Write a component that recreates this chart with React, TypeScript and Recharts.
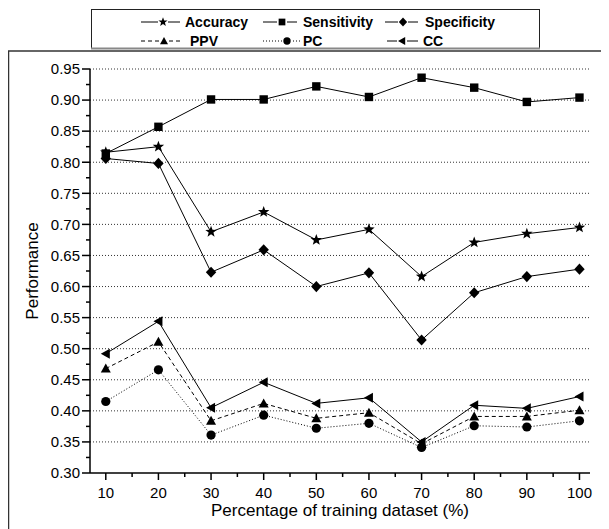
import React from 'react';
import { LineChart, Line, XAxis, YAxis, CartesianGrid } from 'recharts';

const trainingPct = [10, 20, 30, 40, 50, 60, 70, 80, 90, 100];
const accuracy = [0.816, 0.825, 0.688, 0.720, 0.675, 0.692, 0.616, 0.671, 0.685, 0.695];
const sensitivity = [0.814, 0.857, 0.901, 0.901, 0.922, 0.905, 0.936, 0.920, 0.897, 0.904];
const specificity = [0.806, 0.798, 0.623, 0.659, 0.600, 0.622, 0.514, 0.590, 0.616, 0.628];
const ppv = [0.468, 0.511, 0.384, 0.412, 0.388, 0.397, 0.347, 0.391, 0.391, 0.401];
const pc = [0.415, 0.466, 0.361, 0.393, 0.372, 0.380, 0.341, 0.376, 0.374, 0.384];
const cc = [0.492, 0.544, 0.405, 0.446, 0.412, 0.421, 0.350, 0.409, 0.404, 0.423];

const yMajorTicks = [0.30, 0.35, 0.40, 0.45, 0.50, 0.55, 0.60, 0.65, 0.70, 0.75, 0.80, 0.85, 0.90, 0.95];
const yMinorTicks = [0.325, 0.375, 0.425, 0.475, 0.525, 0.575, 0.625, 0.675, 0.725, 0.775, 0.825, 0.875, 0.925];
const xMajorTicks = [10, 20, 30, 40, 50, 60, 70, 80, 90, 100];
const xMinorTicks = [15, 25, 35, 45, 55, 65, 75, 85, 95];
const gridValues = [0.35, 0.40, 0.45, 0.50, 0.55, 0.60, 0.65, 0.70, 0.75, 0.80, 0.85, 0.90, 0.95];

const data = trainingPct.map((x, i) => ({
  x,
  accuracy: accuracy[i],
  sensitivity: sensitivity[i],
  specificity: specificity[i],
  ppv: ppv[i],
  pc: pc[i],
  cc: cc[i],
}));

const FONT = 'Arial, "Liberation Sans", sans-serif';

type Shape = 'star' | 'square' | 'diamond' | 'triangle' | 'circle' | 'leftTriangle';

const series: { key: string; name: string; shape: Shape; dash?: string }[] = [
  { key: 'accuracy', name: 'Accuracy', shape: 'star' },
  { key: 'sensitivity', name: 'Sensitivity', shape: 'square' },
  { key: 'specificity', name: 'Specificity', shape: 'diamond' },
  { key: 'ppv', name: 'PPV', shape: 'triangle', dash: '4 3' },
  { key: 'pc', name: 'PC', shape: 'circle', dash: '1 2' },
  { key: 'cc', name: 'CC', shape: 'leftTriangle' },
];

function starPoints(cx: number, cy: number, R: number, r: number) {
  const pts: string[] = [];
  for (let k = 0; k < 10; k++) {
    const ang = -Math.PI / 2 + (k * Math.PI) / 5;
    const rad = k % 2 === 0 ? R : r;
    pts.push(`${cx + rad * Math.cos(ang)},${cy + rad * Math.sin(ang)}`);
  }
  return pts.join(' ');
}

function Marker({ shape, cx, cy, s = 1 }: { shape: Shape; cx: number; cy: number; s?: number }) {
  if (cx == null || cy == null || isNaN(cx) || isNaN(cy)) return null;
  switch (shape) {
    case 'star':
      return <polygon points={starPoints(cx, cy, 6 * s, 2.5 * s)} fill="#000" />;
    case 'square':
      return <rect x={cx - 4.2 * s} y={cy - 4.2 * s} width={8.4 * s} height={8.4 * s} fill="#000" />;
    case 'diamond':
      return (
        <polygon
          points={`${cx},${cy - 5.6 * s} ${cx + 5.2 * s},${cy} ${cx},${cy + 5.6 * s} ${cx - 5.2 * s},${cy}`}
          fill="#000"
        />
      );
    case 'triangle':
      return (
        <polygon
          points={`${cx},${cy - 5 * s} ${cx + 5 * s},${cy + 4 * s} ${cx - 5 * s},${cy + 4 * s}`}
          fill="#000"
        />
      );
    case 'circle':
      return <circle cx={cx} cy={cy} r={4.6 * s} fill="#000" />;
    case 'leftTriangle':
      return (
        <polygon
          points={`${cx - 5 * s},${cy} ${cx + 4 * s},${cy - 5 * s} ${cx + 4 * s},${cy + 5 * s}`}
          fill="#000"
        />
      );
    default:
      return null;
  }
}

const isMajor = (v: number, step: number) => Math.abs(Math.round(v / step) * step - v) < 1e-6;

const YTick = (props: any) => {
  const { x, y, payload } = props;
  const v = payload.value as number;
  const major = isMajor(v, 0.05);
  return (
    <g>
      <line x1={x - (major ? 8 : 4)} x2={x} y1={y} y2={y} stroke="#000" strokeWidth={1.5} />
      {major && (
        <text x={x - 10} y={y + 5.3} textAnchor="end" fontSize={15} fontFamily={FONT} fill="#000">
          {v.toFixed(2)}
        </text>
      )}
    </g>
  );
};

const XTick = (props: any) => {
  const { x, y, payload } = props;
  const v = payload.value as number;
  const major = isMajor(v, 10);
  return (
    <g>
      <line x1={x} x2={x} y1={y} y2={y + (major ? 7 : 4)} stroke="#000" strokeWidth={1.5} />
      {major && (
        <text x={x} y={y + 25} textAnchor="middle" fontSize={15} fontFamily={FONT} fill="#000">
          {v}
        </text>
      )}
    </g>
  );
};

const LegendItem = ({ x, y, shape, dash, label, lineLen, markerX, textX }: any) => (
  <g>
    <line x1={x} x2={x + lineLen} y1={y} y2={y} stroke="#000" strokeWidth={1} strokeDasharray={dash} />
    <rect x={markerX - 5} y={y - 5} width={10} height={10} fill="#fff" />
    <Marker shape={shape} cx={markerX} cy={y} s={0.8} />
    <text x={textX} y={y + 5} fontSize={14} fontWeight="bold" fontFamily={FONT} fill="#000">
      {label}
    </text>
  </g>
);

export default function App() {
  const W = 601;
  const H = 521;
  return (
    <div style={{ position: 'relative', width: W, height: H, fontFamily: FONT, background: '#fff' }}>
      <LineChart
        width={W}
        height={H}
        data={data}
        margin={{ top: 61, right: 19, bottom: 0, left: 0 }}
      >
        <CartesianGrid
          vertical={false}
          stroke="#333"
          strokeDasharray="1 2"
          horizontalCoordinatesGenerator={({ yAxis, offset }: any) => {
            if (yAxis && typeof yAxis.scale === 'function') {
              return gridValues.map((v) => yAxis.scale(v));
            }
            return gridValues.map((v) => offset.top + (offset.height * (0.95 - v)) / 0.65);
          }}
        />
        <XAxis
          type="number"
          dataKey="x"
          domain={[7, 102]}
          ticks={[...xMajorTicks, ...xMinorTicks].sort((a, b) => a - b)}
          interval={0}
          height={56}
          tickSize={0}
          tickMargin={0}
          tickLine={false}
          axisLine={{ stroke: '#000', strokeWidth: 1.5 }}
          tick={<XTick />}
        />
        <YAxis
          type="number"
          domain={[0.3, 0.95]}
          ticks={[...yMajorTicks, ...yMinorTicks].sort((a, b) => a - b)}
          interval={0}
          width={82}
          tickSize={0}
          tickMargin={0}
          tickLine={false}
          axisLine={{ stroke: '#000', strokeWidth: 1.5 }}
          tick={<YTick />}
          allowDataOverflow
        />
        {series.map((s) => (
          <Line
            key={s.key}
            type="linear"
            dataKey={s.key}
            name={s.name}
            stroke="#000"
            strokeWidth={1}
            strokeDasharray={s.dash}
            isAnimationActive={false}
            activeDot={false}
            dot={(p: any) => <Marker key={`${s.key}-${p.index}`} shape={s.shape} cx={p.cx} cy={p.cy} />}
          />
        ))}
      </LineChart>
      <svg
        width={W}
        height={H}
        style={{ position: 'absolute', left: 0, top: 0, pointerEvents: 'none' }}
      >
        <line x1={0} y1={43} x2={W} y2={43} stroke="#333" strokeWidth={1.5} />
        <line x1={0.5} y1={43} x2={0.5} y2={H} stroke="#333" strokeWidth={1.5} />
        <rect x={83.5} y={1.5} width={448} height={39} fill="#fff" stroke="#222" strokeWidth={1} />
        <line x1={83} y1={40.5} x2={532} y2={40.5} stroke="#888" strokeWidth={2} />
        <LegendItem x={133} y={14} shape="star" label="Accuracy" lineLen={39} markerX={155} textX={177} />
        <LegendItem x={255} y={14} shape="square" label="Sensitivity" lineLen={34} markerX={274} textX={295} />
        <LegendItem x={377} y={14} shape="diamond" label="Specificity" lineLen={33} markerX={395} textX={417} />
        <LegendItem x={133} y={33} shape="triangle" dash="4 3" label="PPV" lineLen={39} markerX={156} textX={182} />
        <LegendItem x={255} y={33} shape="circle" dash="1 2" label="PC" lineLen={39} markerX={279} textX={295} />
        <LegendItem x={379} y={33} shape="leftTriangle" label="CC" lineLen={31} markerX={394} textX={415} />
        <text x={332} y={508} textAnchor="middle" fontSize={17} fontFamily={FONT} fill="#000">
          Percentage of training dataset (%)
        </text>
        <text
          transform="translate(30, 263) rotate(-90)"
          textAnchor="middle"
          fontSize={17}
          fontFamily={FONT}
          fill="#000"
        >
          Performance
        </text>
      </svg>
    </div>
  );
}
